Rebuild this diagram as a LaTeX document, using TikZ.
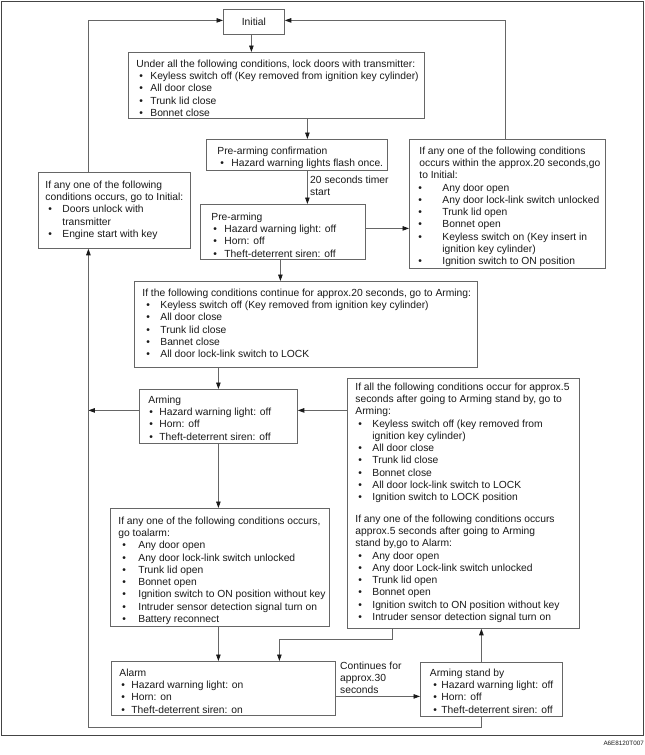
\documentclass[tikz,border=0pt]{standalone}
\usepackage{fontspec}
\setmainfont{Liberation Sans}
\usetikzlibrary{arrows.meta,calc}
\definecolor{ln}{HTML}{666666}
\definecolor{fr}{HTML}{444444}
\definecolor{tx}{HTML}{1A1A1A}
\newcommand\Tl[2]{\mbox{\strut\hspace*{#1pt}#2}}
\newcommand\Bl[3]{\mbox{\strut\makebox[#2pt][l]{\hspace*{#1pt}\textbullet}#3}}
\newcommand\Bx[4]{\parbox[c][#2pt][t]{#1pt}{\vspace*{#3pt}\noindent #4}}
\tikzset{
  box/.style={draw=ln, line width=0.8pt, inner sep=0pt, anchor=north west, text=tx,
    font=\fontsize{10.3}{12.3}\selectfont},
  lbl/.style={inner sep=0pt, anchor=west, align=left, text=tx,
    font=\fontsize{10.3}{12.3}\selectfont},
  arr/.style={draw=ln, line width=0.8pt, -{Triangle[length=6.5pt,width=4.5pt,color=tx]}}
}
\begin{document}
\begin{tikzpicture}[x=1pt,y=-1pt]
\useasboundingbox (0,0) rectangle (645,755);
\fill[white] (0,0) rectangle (645,755);
\draw[fr, line width=1pt] (1,1) rectangle (643,735);

\node[box, minimum width=61pt, minimum height=25pt] (init) at (223,9) {Initial};

\node[box] (lock) at (128,52) {\Bx{296}{66}{6.1}{%
\Tl{8}{Under all the following conditions, lock doors with transmitter:}\\
\Bl{11}{22}{Keyless switch off (Key removed from ignition key cylinder)}\\
\Bl{11}{22}{All door close}\\
\Bl{11}{22}{Trunk lid close}\\
\Bl{11}{22}{Bonnet close}}};

\node[box] (pac) at (206,139) {\Bx{181}{31}{6.1}{%
\Tl{11}{Pre-arming confirmation}\\
\Bl{14}{25}{Hazard warning lights flash once.}}};

\node[lbl] (t20) at (310,186) {20 seconds timer\\start};

\node[box] (pre) at (200,204) {\Bx{165}{55}{7.1}{%
\Tl{11}{Pre-arming}\\
\Bl{13}{24}{Hazard warning light: off}\\
\Bl{13}{24}{Horn: off}\\
\Bl{13}{24}{Theft-deterrent siren: off}}};

\node[box] (fail) at (409,139) {\Bx{196}{129}{6.1}{%
\Tl{10}{If any one of the following conditions}\\
\Tl{10}{occurs within the approx.20 seconds,go}\\
\Tl{10}{to Initial:}\\
\Bl{9}{33}{Any door open}\\
\Bl{9}{33}{Any door lock-link switch unlocked}\\
\Bl{9}{33}{Trunk lid open}\\
\Bl{9}{33}{Bonnet open}\\
\Bl{9}{33}{Keyless switch on (Key insert in}\\
\Tl{33}{ignition key cylinder)}\\
\Bl{9}{33}{Ignition switch to ON position}}};

\node[box] (leftbox) at (38,172) {\Bx{152}{76}{7.1}{%
\Tl{7}{If any one of the following}\\
\Tl{7}{conditions occurs, go to Initial:}\\
\Bl{10}{24}{Doors unlock with}\\
\Tl{24}{transmitter}\\
\Bl{10}{24}{Engine start with key}}};

\node[box] (cont) at (134,281) {\Bx{343}{86}{6.1}{%
\Tl{8}{If the following conditions continue for approx.20 seconds, go to Arming:}\\
\Bl{12}{26}{Keyless switch off (Key removed from ignition key cylinder)}\\
\Bl{12}{26}{All door close}\\
\Bl{12}{26}{Trunk lid close}\\
\Bl{12}{26}{Bannet close}\\
\Bl{12}{26}{All door lock-link switch to LOCK}}};

\node[box] (arming) at (139,389) {\Bx{158}{54}{5.1}{%
\Tl{9}{Arming}\\
\Bl{10}{20}{Hazard warning light: off}\\
\Bl{10}{20}{Horn: off}\\
\Bl{10}{20}{Theft-deterrent siren: off}}};

\node[box] (big) at (347,378) {\Bx{232}{250}{3.1}{%
\Tl{8}{If all the following conditions occur for approx.5}\\
\Tl{8}{seconds after going to Arming stand by, go to}\\
\Tl{8}{Arming:}\\
\Bl{11}{25}{Keyless switch off (key removed from}\\
\Tl{25}{ignition key cylinder)}\\
\Bl{11}{25}{All door close}\\
\Bl{11}{25}{Trunk lid close}\\
\Bl{11}{25}{Bonnet close}\\
\Bl{11}{25}{All door lock-link switch to LOCK}\\
\Bl{11}{25}{Ignition switch to LOCK position}\\[9pt]
\Tl{8}{If any one of the following conditions occurs}\\
\Tl{8}{approx.5 seconds after going to Arming}\\
\Tl{8}{stand by,go to Alarm:}\\
\Bl{11}{25}{Any door open}\\
\Bl{11}{25}{Any door Lock-link switch unlocked}\\
\Bl{11}{25}{Trunk lid open}\\
\Bl{11}{25}{Bonnet open}\\
\Bl{11}{25}{Ignition switch to ON position without key}\\
\Bl{11}{25}{Intruder sensor detection signal turn on}}};

\node[box] (acond) at (110,508) {\Bx{219}{118}{7.1}{%
\Tl{8}{If any one of the following conditions occurs,}\\
\Tl{8}{go toalarm:}\\
\Bl{12}{28}{Any door open}\\
\Bl{12}{28}{Any door lock-link switch unlocked}\\
\Bl{12}{28}{Trunk lid open}\\
\Bl{12}{28}{Bonnet open}\\
\Bl{12}{28}{Ignition switch to ON position without key}\\
\Bl{12}{28}{Intruder sensor detection signal turn on}\\
\Bl{12}{28}{Battery reconnect}}};

\node[box] (alarm) at (111,661) {\Bx{224}{54}{6.1}{%
\Tl{8}{Alarm}\\
\Bl{10}{20}{Hazard warning light: on}\\
\Bl{10}{20}{Horn: on}\\
\Bl{10}{20}{Theft-deterrent siren: on}}};

\node[lbl] (t30) at (340,678) {Continues for\\approx.30\\seconds};

\node[box] (standby) at (420,662) {\Bx{142}{54}{5.1}{%
\Tl{9.5}{Arming stand by}\\
\Bl{13}{21}{Hazard warning light: off}\\
\Bl{13}{21}{Horn: off}\\
\Bl{13}{21}{Theft-deterrent siren: off}}};

\node[inner sep=0pt, anchor=east, text=tx, font=\fontsize{6.3}{7}\selectfont] (code) at (644,743) {A6E8120T007};

% connectors
\coordinate (c1) at ([xshift=-2.5pt]init.south);
\draw[arr] (c1) -- (c1 |- lock.north);
\coordinate (c2) at ([xshift=10.5pt]pac.north);
\draw[arr] (c2 |- lock.south) -- (c2);
\coordinate (c3) at ([xshift=10.5pt]pac.south);
\draw[arr] (c3) -- (c3 |- pre.north);
\coordinate (c4) at ([yshift=3.5pt]pre.east);
\draw[arr] (c4) -- (c4 -| fail.west);
\coordinate (c5) at ([xshift=-2pt]fail.north);
\coordinate (c5b) at ([yshift=1.5pt]init.east);
\draw[arr] (c5) |- (c5b);
\coordinate (c6) at ([xshift=-26pt]leftbox.north);
\coordinate (c6b) at ([yshift=1.5pt]init.west);
\draw[arr] (c6) |- (c6b);
\coordinate (c7) at ([xshift=-2.5pt]pre.south);
\draw[arr] (c7) -- (c7 |- cont.north);
\coordinate (c8) at (arming.north);
\draw[arr] (c8 |- cont.south) -- (c8);
\draw[arr] (arming.south) -- (arming.south |- acond.north);
\coordinate (c9) at ([yshift=6pt]arming.east);
\draw[arr] (c9 -| big.west) -- (c9);
\coordinate (c10) at ([yshift=6pt]arming.west);
\coordinate (lx) at ([xshift=-26pt]leftbox.south);
\draw[arr] (c10) -- (c10 -| lx);
\coordinate (c11) at ([xshift=-1.5pt]acond.south);
\draw[arr] (c11) -- (c11 |- alarm.north);
\coordinate (c12) at ([xshift=-71pt]big.south);
\coordinate (c12b) at ([xshift=56pt]alarm.north);
\draw[arr] (c12) -- ++(0,11) -| (c12b);
\coordinate (c13) at ([yshift=-8pt]alarm.east);
\draw[arr] (c13) -- (c13 -| standby.west);
\coordinate (c14) at ([xshift=-10pt]standby.north);
\draw[arr] (c14) -- (c14 |- big.south);
\coordinate (c15) at ([xshift=-10pt]standby.south);
\draw[arr] (c15) -- ++(0,11) -| (lx);
\end{tikzpicture}
\end{document}
